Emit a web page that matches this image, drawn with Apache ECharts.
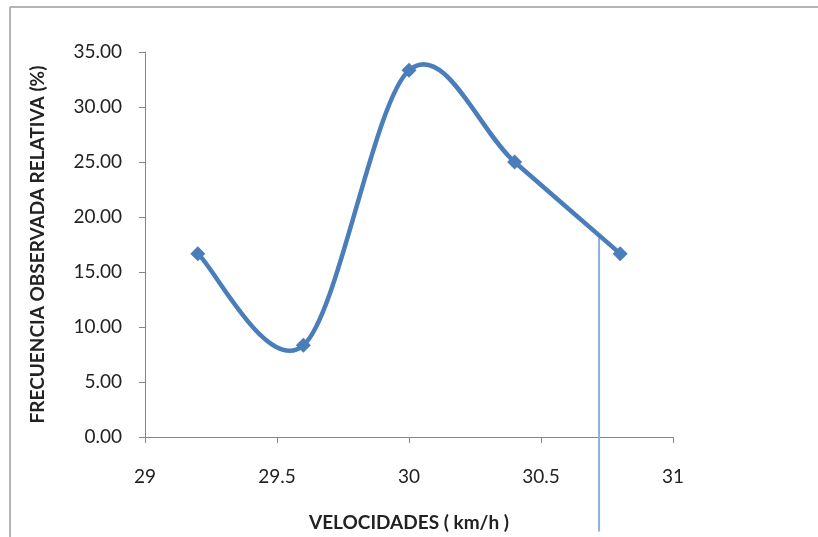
<!DOCTYPE html>
<html>
<head>
<meta charset="utf-8">
<script src="https://cdn.jsdelivr.net/npm/echarts@6/dist/echarts.min.js"></script>
<style>
  html, body { margin: 0; padding: 0; background: #fff; }
  #chart { width: 818px; height: 537px; }
</style>
</head>
<body>
<div id="chart"></div>
<script>
// Observed relative frequency by speed
const velocidades = [29.2, 29.6, 30.0, 30.4, 30.8];
const frecuencias = [16.67, 8.33, 33.33, 25.00, 16.67];

// Vertical reference line: x position and its top / bottom values
const refX = [30.72];
const refRange = [18.5, -8.6];

const xTicks = { min: 29, max: 31, step: 0.5 };
const yTicks = { min: 0, max: 35, step: 5 };

const blue = '#4a7ebb';
const axisGray = '#868686';
const font = 'Lato, "Open Sans", sans-serif';

const chart = echarts.init(document.getElementById('chart'), null, { renderer: 'canvas' });

// Smoothed segment between point i and i+1 (cubic Bezier, Catmull-Rom style tangents)
function renderSegment(params, api) {
  const i = api.value(2);
  const n = velocidades.length;
  const P = k => {
    const j = Math.max(0, Math.min(n - 1, k));
    return api.coord([velocidades[j], frecuencias[j]]);
  };
  const p0 = P(i - 1), p1 = P(i), p2 = P(i + 1), p3 = P(i + 2);
  const c1 = [p1[0] + (p2[0] - p0[0]) / 6, p1[1] + (p2[1] - p0[1]) / 6];
  const c2 = [p2[0] - (p3[0] - p1[0]) / 6, p2[1] - (p3[1] - p1[1]) / 6];
  return {
    type: 'bezierCurve',
    shape: { x1: p1[0], y1: p1[1], cpx1: c1[0], cpy1: c1[1], cpx2: c2[0], cpy2: c2[1], x2: p2[0], y2: p2[1] },
    style: { stroke: blue, lineWidth: 4.5, fill: null, lineCap: 'round' }
  };
}

chart.setOption({
  animation: false,
  backgroundColor: '#fff',
  graphic: [
    { type: 'line', shape: { x1: 10, y1: 7, x2: 818, y2: 7 }, style: { stroke: '#b3b3b3', lineWidth: 2 } },
    { type: 'line', shape: { x1: 10, y1: 7, x2: 10, y2: 537 }, style: { stroke: '#b3b3b3', lineWidth: 2 } }
  ],
  grid: { left: 145, right: 145, top: 52, bottom: 95 },
  xAxis: {
    type: 'value',
    min: xTicks.min, max: xTicks.max, interval: xTicks.step,
    name: 'VELOCIDADES ( km/h )',
    nameLocation: 'middle',
    nameGap: 76,
    nameTextStyle: { fontFamily: font, fontSize: 19, fontWeight: 'bold', color: '#222' },
    axisLine: { lineStyle: { color: axisGray, width: 1 } },
    axisTick: { show: true, inside: false, length: 6, lineStyle: { color: axisGray } },
    axisLabel: { fontFamily: font, fontSize: 19, color: '#222', margin: 30,
      formatter: v => String(v) },
    splitLine: { show: false }
  },
  yAxis: {
    type: 'value',
    min: yTicks.min, max: yTicks.max, interval: yTicks.step,
    name: 'FRECUENCIA OBSERVADA RELATIVA (%)',
    nameLocation: 'middle',
    nameGap: 98,
    nameRotate: 90,
    nameTextStyle: { fontFamily: font, fontSize: 19, fontWeight: 'bold', color: '#222' },
    axisLine: { show: true, lineStyle: { color: axisGray, width: 1 } },
    axisTick: { show: true, inside: false, length: 6, lineStyle: { color: axisGray } },
    axisLabel: { fontFamily: font, fontSize: 19, color: '#222', margin: 23,
      formatter: v => v.toFixed(2) },
    splitLine: { show: false }
  },
  series: [
    {
      type: 'custom',
      clip: false,
      silent: true,
      z: 1,
      data: refX.map(x => [x, refRange[0], refRange[1]]),
      renderItem: function (params, api) {
        const p1 = api.coord([api.value(0), api.value(1)]);
        const p2 = api.coord([api.value(0), api.value(2)]);
        return {
          type: 'line',
          shape: { x1: p1[0], y1: p1[1], x2: p2[0], y2: p2[1] },
          style: { stroke: '#8eb0d8', lineWidth: 2 }
        };
      }
    },
    {
      type: 'custom',
      clip: false,
      silent: true,
      z: 2,
      data: velocidades.slice(0, -1).map((v, i) => [v, frecuencias[i], i]),
      renderItem: renderSegment
    },
    {
      type: 'scatter',
      z: 3,
      data: velocidades.map((v, i) => [v, frecuencias[i]]),
      symbol: 'diamond',
      symbolSize: 15,
      itemStyle: { color: blue, opacity: 1 }
    }
  ]
});
</script>
</body>
</html>
